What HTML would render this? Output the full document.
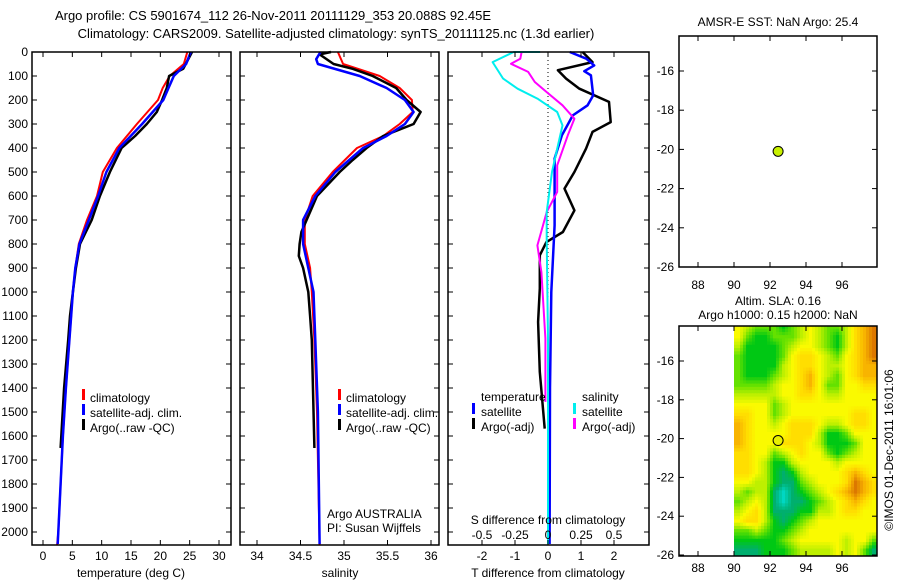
<!DOCTYPE html>
<html><head><meta charset="utf-8"><style>
body{margin:0;background:#fff;}
svg{display:block;font-family:"Liberation Sans",sans-serif;}
text{font-size:12px;fill:#000;}
</style></head><body>
<svg id="c" width="900" height="580" viewBox="0 0 900 580"></svg>
<script>
// ---- data ----
const depthTicks=[0,100,200,300,400,500,600,700,800,900,1000,1100,1200,1300,1400,1500,1600,1700,1800,1900,2000];
const tempTicks=[0,5,10,15,20,25,30];
const salTicks=[34,34.5,35,35.5,36];
const salTickLabels=["34","34.5","35","35.5","36"];
const tdTicks=[-2,-1,0,1,2];
const sdTickLabels=["-0.5","-0.25","0","0.25","0.5"];
const sdTicks=[-0.5,-0.25,0,0.25,0.5];
const lonTicks=[88,90,92,94,96];
const latTicks=[-16,-18,-20,-22,-24,-26];

const tClimDepth=[0,50,100,150,200,300,400,500,600,700,800,900,1000,1200,1400,1600,1800,2000,2055];
const tClim=[24.6,24.0,21.6,20.4,19.6,16.0,12.6,10.2,9.2,7.5,6.1,5.5,5.1,4.5,3.9,3.4,3.0,2.6,2.4];
const tSatDepth=[0,50,100,150,200,300,400,500,600,700,800,900,1000,1200,1400,1600,1800,2000,2050];
const tSat=[25.2,24.4,22.3,21.4,20.5,16.9,13.0,10.8,9.4,7.8,6.2,5.5,5.1,4.5,3.9,3.4,3.0,2.6,2.5];
const tArgoDepth=[0,70,100,150,200,250,300,350,400,500,600,700,800,900,1000,1100,1200,1400,1650];
const tArgo=[25.4,23.9,21.5,21.1,20.3,19.4,17.7,15.7,13.4,11.4,9.7,8.3,6.3,5.6,5.1,4.6,4.3,3.6,3.0];

const sClimDepth=[0,50,100,150,200,250,300,350,400,500,600,700,800,900,1000,1200,1500,2055];
const sClim=[34.93,34.99,35.41,35.64,35.78,35.79,35.64,35.45,35.15,34.87,34.64,34.55,34.55,34.61,34.63,34.66,34.69,34.72];
const sSatDepth=[0,30,50,100,150,200,250,300,350,400,500,600,700,800,900,1000,1200,1500,2050];
const sSat=[34.73,34.68,34.7,35.18,35.49,35.7,35.8,35.7,35.49,35.22,34.9,34.67,34.53,34.53,34.59,34.65,34.67,34.7,34.72];
const sArgoDepth=[0,10,50,70,100,150,200,250,300,350,400,450,500,600,700,750,800,850,900,1000,1100,1200,1650];
const sArgo=[34.85,34.72,34.88,35.1,35.33,35.6,35.72,35.88,35.8,35.45,35.26,35.1,34.95,34.69,34.57,34.51,34.49,34.48,34.53,34.59,34.61,34.63,34.66];

const dTSatDepth=[0,28,56,80,97,181,222,264,347,444,722,1000,1400,2050];
const dTSat=[0.66,1.16,1.4,1.1,1.3,1.37,1.2,0.75,0.42,0.2,0.2,0.1,0.06,0.05];
const dTArgoDepth=[0,42,76,111,153,208,292,333,403,500,569,660,750,792,847,986,1125,1333,1569];
const dTArgo=[1.05,1.35,0.3,0.55,0.95,1.85,1.9,1.35,1.15,0.8,0.5,0.8,0.45,-0.05,-0.25,-0.25,-0.3,-0.25,-0.1];
const dSSatDepth=[0,0,42,111,153,194,250,306,403,500,667,778,1200,2050];
const dSSat=[-0.06,-0.26,-0.42,-0.34,-0.23,-0.08,0.07,0.11,0.07,0.03,-0.01,-0.01,0,0];
const dSArgoDepth=[0,28,49,83,125,167,222,278,347,472,583,667,806,917,1194,1458];
const dSArgo=[-0.2,-0.21,-0.28,-0.15,-0.1,-0.01,0.11,0.2,0.15,0.07,0.07,-0.01,-0.08,-0.05,-0.02,-0.02];

const argoLon=92.45, argoLat=-20.1;
const slaRows=[
"5433323454334678","5322333454324678","4222234554324678","3222235665435678",
"3222245665445677","3222345675435677","3333455675335566","4444455665445555",
"5555345555555555","6655345555555665","7655456665445665","7655556664223555",
"7655566654222355","6655345655323455","6654224555545555","6654212455556765",
"5544211345556876","4344101234567876","3454101123456765","4564111224456655",
"5664212345555555","3343223455555555","2222234555554553","1112223444454531"];
const slaColors=[[0,215,195],[0,175,110],[0,200,20],[100,225,0],[190,240,0],[250,250,0],[255,222,0],[248,180,0],[220,120,0]];

// ---- helpers ----
const svg=document.getElementById('c');
const NS='http://www.w3.org/2000/svg';
function mk(tag,attrs,parent){const e=document.createElementNS(NS,tag);for(const k in attrs)e.setAttribute(k,attrs[k]);(parent||svg).appendChild(e);return e;}
function txt(x,y,s,anchor,parent){const t=mk('text',{x:x,y:y,'text-anchor':anchor||'middle'},parent);t.textContent=s;return t;}

const PT=52,PB=545;
const dy=d=>PT+d*0.24;
function lin(a0,a1,p0,p1){return v=>p0+(v-a0)*(p1-p0)/(a1-a0);}

function frame(x0,x1,y0,y1,name){
  const r=mk('rect',{x:x0,y:y0,width:x1-x0,height:y1-y0,fill:'none',stroke:'#000','stroke-width':1.5});
  
  
}
function depthAxis(x0,x1,labels){
  depthTicks.forEach(d=>{const y=dy(d);
    mk('line',{x1:x0,y1:y,x2:x0+5,y2:y,stroke:'#000'});
    mk('line',{x1:x1-5,y1:y,x2:x1,y2:y,stroke:'#000'});
    if(labels){const t=txt(28,y+4,String(d),'end');
      
      }
  });
}
function xTicks(vals,labels,sx,y0,y1,labY){
  vals.forEach((v,i)=>{const x=sx(v);
    mk('line',{x1:x,y1:y1,x2:x,y2:y1-5,stroke:'#000'});
    mk('line',{x1:x,y1:y0,x2:x,y2:y0+5,stroke:'#000'});
    if(labY){const t=txt(x,labY,labels[i]);
      
      }
  });
}
function profile(ds,vs,sx,color,w,name){
  const pts=ds.map((d,i)=>sx(vs[i]).toFixed(1)+','+dy(d).toFixed(1)).join(' ');
  const p=mk('polyline',{points:pts,fill:'none',stroke:color,'stroke-width':w,'stroke-linejoin':'round'});
  
  
}
function legendBar(x,y,color){mk('rect',{x:x,y:y-9,width:3,height:11,fill:color});}

// titles
const t1=txt(273,20,'Argo profile: CS 5901674_112 26-Nov-2011 20111129_353 20.088S 92.45E');
t1.setAttribute('style','font-size:13px');

const t2=txt(336,38,'Climatology: CARS2009. Satellite-adjusted climatology: synTS_20111125.nc (1.3d earlier)');
t2.setAttribute('style','font-size:13px');


// panel 1 temperature
const sxT=lin(0,30,43,219);
profile(tClimDepth,tClim,sxT,'#f00',2,'temp-climatology-line');
profile(tArgoDepth,tArgo,sxT,'#000',2.5,'temp-argo-line');
profile(tSatDepth,tSat,sxT,'#00f',2.5,'temp-satellite-line');
frame(32,231,PT,PB,'temperature-panel');
depthAxis(32,231,true);
xTicks(tempTicks,tempTicks.map(String),sxT,PT,PB,560);
txt(131,577,'temperature (deg C)');
legendBar(82,398,'#f00');txt(90,402,'climatology','start');
legendBar(82,413,'#00f');txt(90,417,'satellite-adj. clim.','start');
legendBar(82,428,'#000');txt(90,432,'Argo(..raw -QC)','start');

// panel 2 salinity
const sxS=lin(34,36,257,431);
profile(sClimDepth,sClim,sxS,'#f00',2,'sal-climatology-line');
profile(sArgoDepth,sArgo,sxS,'#000',2.5,'sal-argo-line');
profile(sSatDepth,sSat,sxS,'#00f',2.5,'sal-satellite-line');
frame(240,439,PT,PB,'salinity-panel');
depthAxis(240,439,false);
xTicks(salTicks,salTickLabels,sxS,PT,PB,560);
txt(340,577,'salinity');
legendBar(338,398,'#f00');txt(346,402,'climatology','start');
legendBar(338,413,'#00f');txt(346,417,'satellite-adj. clim.','start');
legendBar(338,428,'#000');txt(346,432,'Argo(..raw -QC)','start');
txt(327,518,'Argo AUSTRALIA','start');
txt(327,532,'PI: Susan Wijffels','start');

// panel 3 differences
const sxD=lin(0,2,548,614);
const sxDS=lin(0,0.5,548,614);
mk('line',{x1:548,y1:PT,x2:548,y2:PB,stroke:'#000','stroke-dasharray':'1,3'});
profile(dTArgoDepth,dTArgo,sxD,'#000',2.5,'tdiff-argo-line');
profile(dTSatDepth,dTSat,sxD,'#00f',2.5,'tdiff-satellite-line');
profile(dSArgoDepth,dSArgo,sxDS,'#f0f',2,'sdiff-argo-line');
profile(dSSatDepth,dSSat,sxDS,'#0ee',2,'sdiff-satellite-line');
frame(448,649,PT,PB,'difference-panel');
depthAxis(448,649,false);
xTicks(tdTicks,tdTicks.map(String),sxD,PT,PB,560);
sdTicks.forEach((v,i)=>{const t=txt(sxDS(v),539,sdTickLabels[i]);});
txt(548,524,'S difference from climatology');
txt(548,577,'T difference from climatology');
txt(481,401,'temperature','start');txt(582,401,'salinity','start');
legendBar(472,412,'#00f');txt(481,416,'satellite','start');
legendBar(472,427,'#000');txt(481,431,'Argo(-adj)','start');
legendBar(573,412,'#0ee');txt(582,416,'satellite','start');
legendBar(573,427,'#f0f');txt(582,431,'Argo(-adj)','start');

// maps
const lonX=lin(88,96,698,842);
function mapAxes(top,bot,latY,labY,name){
  frame(679,877,top,bot,name);
  lonTicks.forEach(v=>{const x=lonX(v);
    mk('line',{x1:x,y1:top,x2:x,y2:top+5,stroke:'#000'});
    mk('line',{x1:x,y1:bot,x2:x,y2:bot-5,stroke:'#000'});
    const t=txt(x,labY,String(v));});
  latTicks.forEach(v=>{const y=latY(v);
    mk('line',{x1:679,y1:y,x2:684,y2:y,stroke:'#000'});
    mk('line',{x1:872,y1:y,x2:877,y2:y,stroke:'#000'});
    const t=txt(674,y+4,String(v),'end');});
}
// top SST map
const latY1=lin(-16,-26,71,267);
txt(778,26,'AMSR-E SST: NaN Argo: 25.4');
mapAxes(36,267,latY1,289,'sst-map');
const dot1=mk('circle',{cx:lonX(argoLon),cy:latY1(argoLat),r:5,fill:'#c8f000',stroke:'#000','stroke-width':1});



// bottom SLA map (grid values rendered with smooth shading)
const latY2=lin(-16,-26,361,555);
const MT=326,MB=556;
const clip=mk('clipPath',{id:'mapclip'});
mk('rect',{x:679,y:MT,width:198,height:MB-MT},clip);
const mg=mk('g',{'clip-path':'url(#mapclip)'});


const NR=slaRows.length,NC=slaRows[0].length;
function val(r,c){r=Math.max(0,Math.min(NR-1,r));c=Math.max(0,Math.min(NC-1,c));return +slaRows[r][c];}
function colorOf(v){const i=Math.max(0,Math.min(7,Math.floor(v)));const f=Math.max(0,Math.min(1,v-i));
  const a=slaColors[i],b=slaColors[i+1];
  return 'rgb('+a.map((x,k)=>Math.round(x+(b[k]-x)*f)).join(',')+')';}
const SUB=3;
for(let i=0;i<NR*SUB;i++){
  for(let j=0;j<NC*SUB;j++){
    const rr=(i+0.5)/SUB-0.5, cc=(j+0.5)/SUB-0.5;
    const r0=Math.floor(rr),c0=Math.floor(cc),fr=rr-r0,fc=cc-c0;
    const v=(1-fr)*((1-fc)*val(r0,c0)+fc*val(r0,c0+1))+fr*((1-fc)*val(r0+1,c0)+fc*val(r0+1,c0+1));
    const latT=-14-0.5*i/SUB,latB=-14-0.5*(i+1)/SUB;
    const yTop=i===0?MT-2:latY2(latT), yBot=latY2(latB);
    const x0=lonX(90+0.5*j/SUB), x1=lonX(90+0.5*(j+1)/SUB);
    const c=mk('rect',{x:x0.toFixed(1),y:yTop.toFixed(1),width:(x1-x0+0.6).toFixed(1),height:(yBot-yTop+0.6).toFixed(1),fill:colorOf(v)},mg);
    
    
  }
}
txt(778,305,'Altim. SLA: 0.16');
txt(778,319,'Argo h1000: 0.15 h2000: NaN');
mapAxes(MT,MB,latY2,572,'sla-map');
const dot2=mk('circle',{cx:lonX(argoLon),cy:latY2(argoLat),r:5,fill:'#e8f000',stroke:'#000','stroke-width':1});



const cp=txt(0,0,'\u00a9IMOS 01-Dec-2011 16:01:06');
cp.setAttribute('transform','translate(893,450) rotate(-90)');


</script>
</body></html>
